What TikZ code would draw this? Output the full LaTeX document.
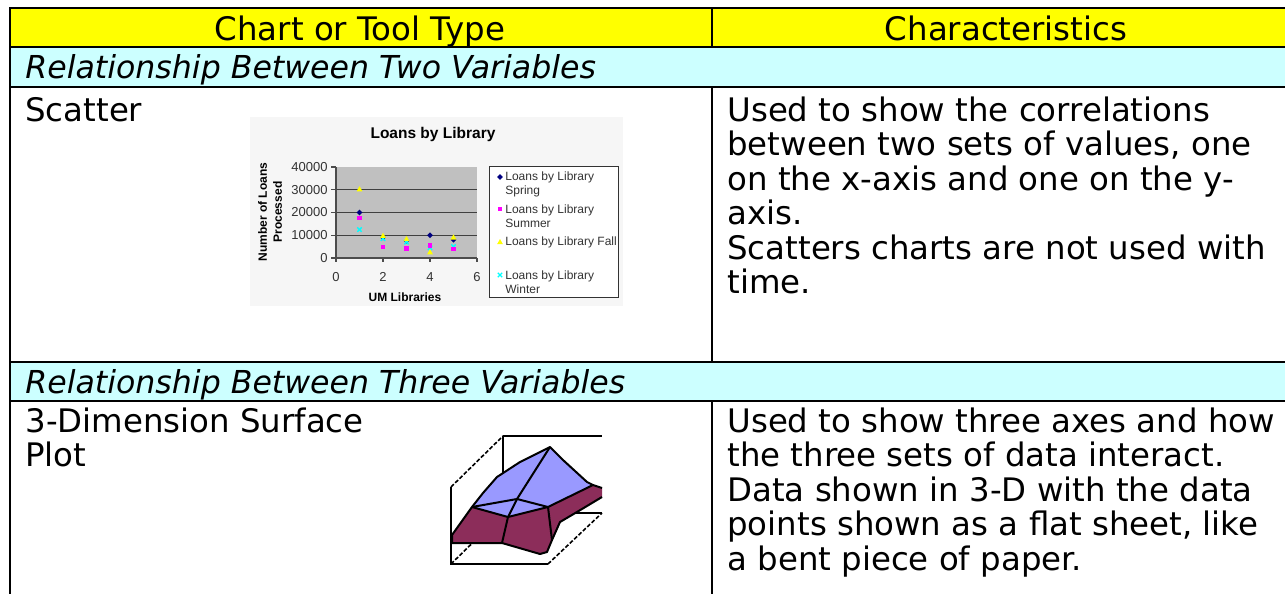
\documentclass[tikz,border=0pt]{standalone}
\usepackage{fontspec}
\setmainfont{DejaVu Sans}
\newfontfamily\chartfont{Liberation Sans}
\newcommand\cellfont{\fontsize{16.2}{17.25}\selectfont}
\newcommand\secfont{\fontsize{15.8}{17.25}\selectfont\itshape}
\definecolor{hdryellow}{HTML}{FFFF00}
\definecolor{seccyan}{HTML}{CCFFFF}
\definecolor{plotgray}{HTML}{C0C0C0}
\definecolor{chartbg}{HTML}{F6F6F6}
\definecolor{sprcol}{HTML}{000080}
\definecolor{sumcol}{HTML}{FF00FF}
\definecolor{falcol}{HTML}{FFFF00}
\definecolor{wincol}{HTML}{00FFFF}
\definecolor{surfblue}{HTML}{9999FF}
\definecolor{surfplum}{HTML}{8C2D5A}

\tikzset{
  rule/.style={line width=1.25pt, line cap=rect},
  celltext/.style={inner sep=0pt, font=\cellfont},
  sectext/.style={inner sep=0pt, font=\secfont, anchor=base west},
  ticklabel/.style={inner sep=0pt, font=\chartfont\fontsize{6.5}{7.5}\selectfont, text=black!80},
  legtext/.style={inner sep=0pt, font=\chartfont\fontsize{6}{7}\selectfont, text=black!80, anchor=west, align=left},
  axistitle/.style={inner sep=0pt, font=\chartfont\bfseries\fontsize{6}{7.5}\selectfont, align=center},
  gridline/.style={line width=0.6pt, black!75},
  sprmark/.pic={\fill[sprcol] (0,-2.8) -- (2.8,0) -- (0,2.8) -- (-2.8,0) -- cycle;},
  summark/.pic={\fill[sumcol] (-2.3,-2.3) rectangle (2.3,2.3);},
  falmark/.pic={\fill[falcol] (0,-3) -- (2.9,2.2) -- (-2.9,2.2) -- cycle;},
  winmark/.pic={\draw[wincol, line width=0.7pt] (-2.2,-2.2) -- (2.2,2.2) (-2.2,2.2) -- (2.2,-2.2);},
  boxline/.style={line width=1pt, black},
  wallline/.style={line width=0.8pt, black, dash pattern=on 2pt off 1pt},
  surfedge/.style={line width=1pt, black, line join=round},
}

\begin{document}
\begin{tikzpicture}[x=0.5pt, y=-0.5pt]
\useasboundingbox (0,0) rectangle (1285,594);

% ---------- table grid ----------
\begin{scope}
  \clip (0,0) rectangle (1285,594);
  \fill[hdryellow] (10,8) rectangle (1300,47);
  \fill[seccyan] (10,47) rectangle (1300,87);
  \fill[seccyan] (10,362) rectangle (1300,401);
  \draw[rule] (10,8) -- (1300,8);
  \draw[rule] (10,47) -- (1300,47);
  \draw[rule] (10,87) -- (1300,87);
  \draw[rule] (10,362) -- (1300,362);
  \draw[rule] (10,401) -- (1300,401);
  \draw[rule] (10,8) -- (10,600);
  \draw[rule] (712,8) -- (712,47);
  \draw[rule] (712,87) -- (712,362);
  \draw[rule] (712,401) -- (712,600);
\end{scope}

% ---------- header and section texts ----------
\node[celltext, anchor=base] (hleft) at (360,40) {Chart or Tool Type};
\node[celltext, anchor=base] (hright) at (1006,40) {Characteristics};
\node[sectext] (sectwo) at (25,78) {Relationship Between Two Variables};
\node[sectext] (secthree) at (25,393) {Relationship Between Three Variables};

% ---------- row: scatter ----------
\node[celltext, anchor=base west] (scname) at (25,121) {Scatter};
\node[celltext, anchor=base west] (scdesc) at (727,121) {\parbox[t]{300pt}{\cellfont
  Used to show the correlations\\
  between two sets of values, one\\
  on the x-axis and one on the y-\\
  axis.\\
  Scatters charts are not used with\\
  time.}};

% scatter chart
\fill[chartbg] (250,117) rectangle (623,306);
\node[inner sep=0pt, font=\chartfont\bfseries\fontsize{7.75}{9}\selectfont, anchor=base] (ctitle) at (433,138) {Loans by Library};
\fill[plotgray] (336,167) rectangle (477,258);
\foreach \g in {189.75,212.5,235.25}
  \draw[gridline] (336,\g) -- (477,\g);
\draw[black!70, line width=0.6pt] (336,167) -- (336,258) -- (477,258);
\foreach \g in {167,189.75,212.5,235.25,258}
  \draw[black!70, line width=0.6pt] (331,\g) -- (336,\g);
\foreach \u in {0,2,4,6}
  \draw[black!70, line width=0.6pt] ({336+23.5*\u},258) -- ({336+23.5*\u},262);
\foreach \v/\g in {0/258,10000/235.25,20000/212.5,30000/189.75,40000/167}
  \node[ticklabel, anchor=east] (yl\v) at (328,\g) {\v};
\foreach \u in {0,2,4,6}
  \node[ticklabel] (xl\u) at ({336+23.5*\u},277) {\u};
\node[axistitle] (xtitle) at (405,297) {UM Libraries};
\node[axistitle, rotate=90] (ytitle) at (270,212) {Number of Loans\\Processed};

% data series (x in libraries, y in thousands of loans)
\foreach \u/\v in {1/20,2/9,3/7.5,4/10,5/8}
  \pic at ({336+23.5*\u},{258-2.275*\v}) {sprmark};
\foreach \u/\v in {1/12.5,2/8.5,3/7,4/4.5,5/5}
  \pic at ({336+23.5*\u},{258-2.275*\v}) {winmark};
\foreach \u/\v in {1/17.6,2/4.8,3/4.1,4/5.4,5/4}
  \pic at ({336+23.5*\u},{258-2.275*\v}) {summark};
\foreach \u/\v in {1/30.3,2/9.8,3/8.4,4/2.6,5/9.1}
  \pic at ({336+23.5*\u},{258-2.275*\v}) {falmark};

% legend
\draw[black!80, line width=0.5pt, fill=white] (489,166) rectangle (618,297);
\pic at (500,177) {sprmark};
\node[legtext] (lgspr) at (505,184) {Loans by Library\\Spring};
\pic at (500,209) {summark};
\node[legtext] (lgsum) at (505,216) {Loans by Library\\Summer};
\pic at (500,242) {falmark};
\node[legtext] (lgfal) at (505,242) {Loans by Library Fall};
\pic at (500,275) {winmark};
\node[legtext] (lgwin) at (505,282) {Loans by Library\\Winter};

% ---------- row: surface ----------
\node[celltext, anchor=base west] (sfname) at (25,432) {\parbox[t]{300pt}{\cellfont
  3-Dimension Surface\\
  Plot}};
\node[celltext, anchor=base west] (sfdesc) at (727,432) {\parbox[t]{300pt}{\cellfont
  Used to show three axes and how\\
  the three sets of data interact.\\
  Data shown in 3-D with the data\\
  points shown as a flat sheet, like\\
  a bent piece of paper.}};

% surface plot: walls and floor
\coordinate (fbl) at (451,564);
\coordinate (fbr) at (548,564);
\coordinate (bbr) at (602,513);
\coordinate (bbl) at (503,513);
\coordinate (ftl) at (451,487);
\coordinate (btl) at (503,436);
\coordinate (btr) at (602,436);
\draw[boxline] (btl) -- (bbl) -- (bbr);
\draw[wallline] (fbl) -- (bbl);
\draw[boxline] (ftl) -- (fbl) -- (fbr);
\draw[wallline] (fbr) -- (bbr);
\draw[wallline] (ftl) -- (btl);
\draw[boxline] (btl) -- (btr);

% surface sheet
\fill[surfplum] (452,535) -- (472,507) -- (508,517) -- (548,507) -- (593,485)
  -- (602,488) -- (602,497) -- (577,512) -- (560,522) -- (552,540)
  -- (547,552) -- (540,554) -- (502,543) -- (452,543) -- cycle;
\fill[surfblue] (472,507) -- (483,493) -- (497,477) -- (520,462) -- (550,447)
  -- (563,460) -- (587,482) -- (593,485) -- (548,507) -- (508,517) -- cycle;
\draw[surfedge] (452,543) -- (452,535) -- (472,507) -- (483,493) -- (497,477)
  -- (520,462) -- (550,447) -- (563,460) -- (587,482) -- (593,485) -- (602,488);
\draw[surfedge] (472,507) -- (508,517) -- (548,507) -- (593,485);
\draw[surfedge] (602,497) -- (577,512) -- (560,522) -- (552,540) -- (547,552)
  -- (540,554) -- (502,543) -- (452,543);
\draw[surfedge] (550,447) -- (517,499) -- (508,517) -- (502,543);
\draw[surfedge] (472,507) -- (517,499) -- (548,507);
\draw[surfedge] (548,507) -- (552,540);
\end{tikzpicture}
\end{document}
